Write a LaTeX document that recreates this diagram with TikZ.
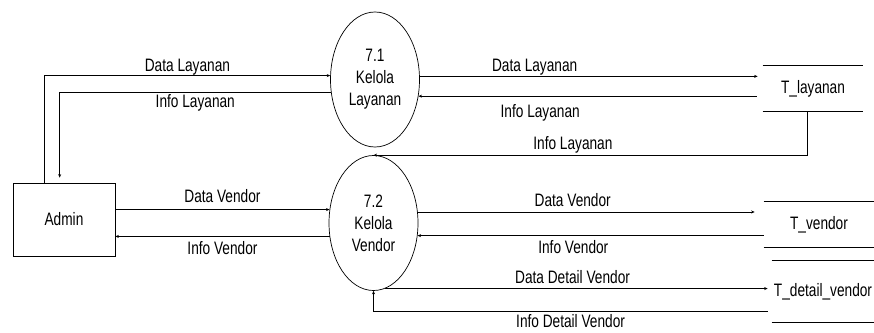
\documentclass[tikz,border=0pt]{standalone}
\usepackage{fontspec}
\setmainfont{Liberation Sans}[FakeStretch=0.76]
\usetikzlibrary{shapes.geometric,arrows.meta,calc}

\begin{document}
\begin{tikzpicture}[x=1pt,y=-1pt,line width=0.7pt,
   proses/.style={draw,ellipse,minimum width=89pt,minimum height=135pt,inner sep=0pt,align=center,font=\fontsize{18}{22}\selectfont},
   entitas/.style={draw,minimum width=102pt,minimum height=73pt,inner sep=0pt,font=\fontsize{18}{20}\selectfont},
   simpan/.style={minimum height=45pt,inner sep=0pt,font=\fontsize{18}{20}\selectfont},
   alir/.style={-{Stealth[length=3.5pt,width=3pt]}},
   lbl/.style={font=\fontsize{18}{20}\selectfont,inner sep=1.5pt,text height=13pt,text depth=3.5pt}]
   \useasboundingbox (0,0) rectangle (874,332);
% nodes
   \node[entitas] (admin) at (64,219.5) {Admin};
   \node[proses] (p71) at (375,79.5) {7.1\\Kelola\\Layanan};
   \node[proses] (p72) at (373.5,223) {7.2\\Kelola\\Vendor};
   \node[simpan,minimum width=100pt] (tlay) at (813,88.5) {T\_layanan};
   \node[simpan,minimum width=110pt] (tvend) at (819,224.5) {T\_vendor};
   \node[simpan,minimum width=102pt,minimum height=61pt] (tdet) at (823,291.5) {T\_detail\_vendor};
   \draw (tlay.north west) -- (tlay.north east) (tlay.south west) -- (tlay.south east);
   \draw (tvend.north west) -- (tvend.north east) (tvend.south west) -- (tvend.south east);
   \draw (tdet.north west) -- (tdet.north east) (tdet.south west) -- (tdet.south east);
% flows layanan
   \draw[alir] ([xshift=32pt]admin.north west) |- (p71.175) node[lbl,above=-1pt,pos=0.75] {Data Layanan};
   \draw[alir] (p71.196) -| ([xshift=47pt,yshift=5pt]admin.north west) node[lbl,below=1pt,pos=0.25] {Info Layanan};
   \draw[alir] (p71.4) -- ($(p71.4 -| tlay.west)+(-5,0)$) node[lbl,above,pos=0.34] {Data Layanan};
   \draw[alir] ($(p71.339 -| tlay.west)+(-6,0)$) -- (p71.339) node[lbl,below=6pt,pos=0.64] {Info Layanan};
   \draw[alir] ([xshift=-6pt]tlay.south) |- (p72.north) node[lbl,above,pos=0.77] {Info Layanan};
% flows vendor
   \draw[alir] (admin.east |- p72.163) -- (p72.163) node[lbl,above=2pt,midway] {Data Vendor};
   \draw[alir] (p72.197) -- (admin.east |- p72.197) node[lbl,below=3pt,midway] {Info Vendor};
   \draw[alir] (p72.14) -- ($(p72.14 -| tvend.west)+(-9,0)$) node[lbl,above,pos=0.46] {Data Vendor};
   \draw[alir] (tvend.west |- p72.344) -- (p72.344) node[lbl,below=3pt,pos=0.55] {Info Vendor};
   \draw[alir] (p72.-80) -- ($(p72.-80 -| tdet.west)+(-4,0)$) node[lbl,above,pos=0.49] {Data Detail Vendor};
   \draw[alir] ($(tdet.west)+(-4,19.5)$) -| (p72.south) node[lbl,below=2pt,pos=0.25] {Info Detail Vendor};
\end{tikzpicture}
\end{document}
